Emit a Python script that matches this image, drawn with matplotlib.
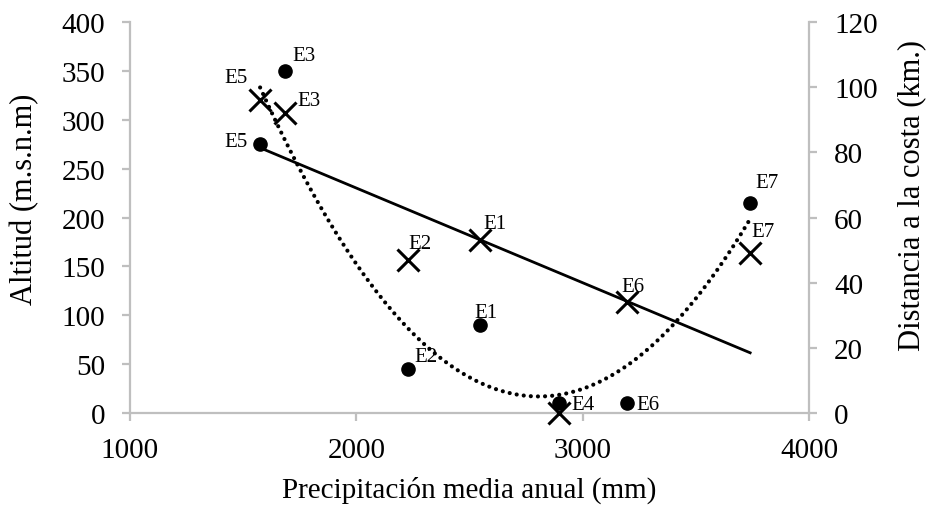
import numpy as np
import matplotlib
matplotlib.use("Agg")
import matplotlib.pyplot as plt

plt.rcParams['font.family'] = ['Liberation Serif', 'DejaVu Serif']

# Stations
stations = ["E1", "E2", "E3", "E4", "E5", "E6", "E7"]
precip = [2545, 2230, 1685, 2895, 1575, 3195, 3740]        # mm
altitude = [90, 45, 350, 10, 275, 10, 215]                  # m.s.n.m
distance = [53, 47, 92, 0, 96, 34, 49]                      # km

x_ticks = [1000, 2000, 3000, 4000]
alt_ticks = [0, 50, 100, 150, 200, 250, 300, 350, 400]
dist_ticks = [0, 20, 40, 60, 80, 100, 120]

# label placement (offset in points, horizontal alignment)
alt_offsets = {"E1": (-4, 9, "left"), "E2": (4, 9, "left"), "E3": (5, 11, "left"),
               "E4": (9, -1, "left"), "E5": (-9, 2, "right"), "E6": (7, -1, "left"),
               "E7": (4, 15, "left")}
dist_offsets = {"E1": (3, 12, "left"), "E2": (0, 12, "left"), "E3": (9, 9, "left"),
                "E5": (-9, 16, "right"), "E6": (-4, 11, "left"), "E7": (1, 16, "left")}

fig = plt.figure(figsize=(9.27, 5.10), dpi=100)
ax = fig.add_axes([0.1402, 0.1882, 0.7325, 0.7667])
ax2 = ax.twinx()

gray = "#bfbfbf"
fs_tick = 21
fs_lab = 21
fs_ylab = 22
fs_pt = 15

# altitude points with a 2nd-order polynomial trend
ax.plot(precip, altitude, linestyle="none", marker="o", markersize=9.5,
        color="black", zorder=3)
c2 = np.polyfit(precip, altitude, 2)
xs = np.linspace(min(precip), max(precip), 200)
ax.plot(xs, np.polyval(c2, xs), color="black", lw=3.0,
        linestyle=(0, (0.01, 1.7)), dash_capstyle="round", zorder=2)

# distance points with a linear trend
ax2.plot(precip, distance, linestyle="none", marker="x", markersize=16,
         markeredgewidth=2.2, color="black", zorder=3, clip_on=False)
c1 = np.polyfit(precip, distance, 1)
xl = np.array([min(precip), max(precip)])
ax2.plot(xl, np.polyval(c1, xl), color="black", lw=2.0, zorder=2)

for name, xv, yv in zip(stations, precip, altitude):
    dx, dy, ha = alt_offsets[name]
    ax.annotate(name, (xv, yv), xytext=(dx, dy), textcoords="offset points",
                fontsize=fs_pt, ha=ha, va="center")
for name, xv, yv in zip(stations, precip, distance):
    if name in dist_offsets:
        dx, dy, ha = dist_offsets[name]
        ax2.annotate(name, (xv, yv), xytext=(dx, dy), textcoords="offset points",
                     fontsize=fs_pt, ha=ha, va="center")

ax.set_xlim(1000, 4000)
ax.set_ylim(0, 400)
ax2.set_ylim(0, 120)
ax.set_xticks(x_ticks)
ax.set_yticks(alt_ticks)
ax2.set_yticks(dist_ticks)

for a in (ax, ax2):
    for s in ("top", "left", "right", "bottom"):
        a.spines[s].set_visible(False)
for a, s in ((ax, "bottom"), (ax, "left"), (ax2, "right")):
    a.spines[s].set_visible(True)
    a.spines[s].set_color(gray)
    a.spines[s].set_linewidth(1.6)

ax.tick_params(axis="x", direction="out", length=6, width=1.6, color=gray,
               labelsize=fs_tick, pad=11)
ax.tick_params(axis="y", direction="out", length=6, width=1.6, color=gray,
               labelsize=fs_tick, pad=12)
ax2.tick_params(axis="y", direction="out", length=6, width=1.6, color=gray,
                labelsize=fs_tick, pad=12)

ax.set_xlabel("Precipitación media anual (mm)", fontsize=fs_lab)
ax.set_ylabel("Altitud (m.s.n.m)", fontsize=fs_ylab)
ax2.set_ylabel("Distancia a la costa (km.)", fontsize=fs_ylab)
ax.xaxis.set_label_coords(0.5, -0.194)
ax.xaxis.label.set_va("center")
ax.yaxis.set_label_coords(-0.155, 0.55)
ax.yaxis.label.set_va("center")
ax2.yaxis.set_label_coords(1.152, 0.56)
ax2.yaxis.label.set_va("center")

fig.savefig("out.png", dpi=100)
